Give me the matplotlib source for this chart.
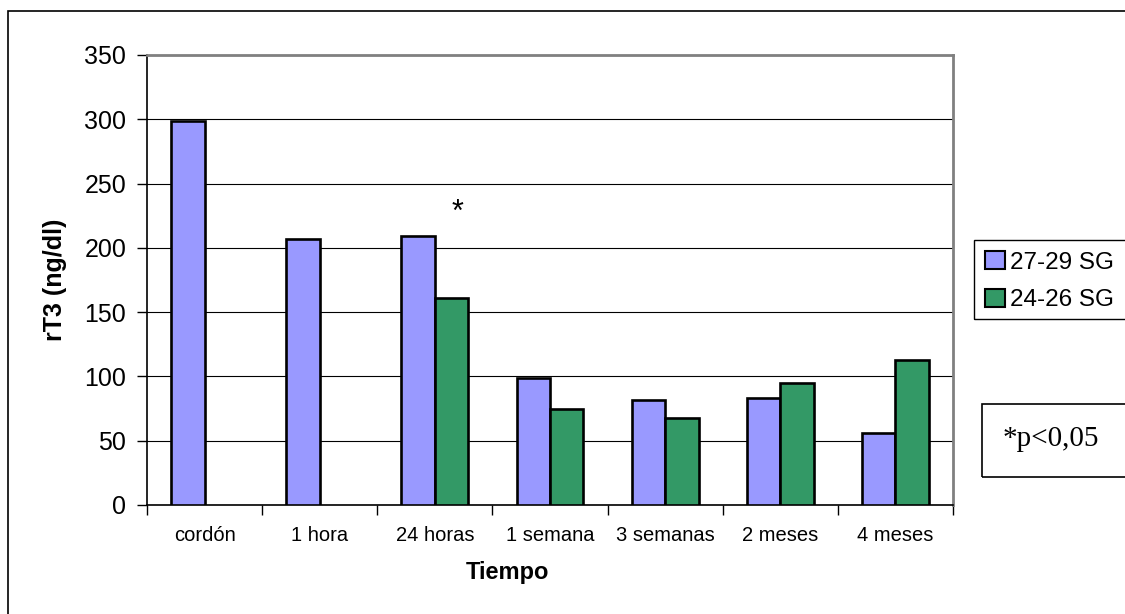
import matplotlib.pyplot as plt
from matplotlib.patches import Rectangle, Patch
import numpy as np

# datos
categorias = ['cordón', '1 hora', '24 horas', '1 semana', '3 semanas', '2 meses', '4 meses']
sg_27_29 = [299, 207, 209, 99, 82, 83, 56]
sg_24_26 = [np.nan, np.nan, 161, 75, 68, 95, 113]
series = ['27-29 SG', '24-26 SG']
yticks = [0, 50, 100, 150, 200, 250, 300, 350]

if True:
    W, H, dpi = 1125, 614, 100
    colors = ['#9999FF', '#339966']
    plt.rcParams['font.family'] = ['Liberation Sans', 'DejaVu Sans']

fig = plt.figure(figsize=(W / dpi, H / dpi), dpi=dpi)
# área de trazado (px -> fracción)
ax = fig.add_axes([147 / W, 1 - 505 / H, (953 - 147) / W, (505 - 55) / H])

x = np.arange(len(categorias))
bw = 0.29
ax.bar(x - bw, sg_27_29, width=bw, align='edge', color=colors[0],
       edgecolor='black', linewidth=1.9, zorder=3)
g = np.array(sg_24_26, dtype=float)
m = ~np.isnan(g)
ax.bar(x[m], g[m], width=bw, align='edge', color=colors[1],
       edgecolor='black', linewidth=1.9, zorder=3)

ax.set_xlim(-0.5, len(categorias) - 0.5)
ax.set_ylim(0, 350)
ax.set_yticks(yticks)
ax.yaxis.grid(True, color='black', linewidth=0.8, zorder=0)

# marcas en los límites de categoría, etiquetas al centro
ax.set_xticks(np.arange(len(categorias) + 1) - 0.5)
ax.set_xticklabels([])
ax.set_xticks(x, minor=True)
ax.set_xticklabels(categorias, minor=True, fontsize=14.5)
ax.tick_params(axis='x', which='major', length=7, width=1, direction='out')
ax.tick_params(axis='x', which='minor', length=0, pad=15)
ax.tick_params(axis='y', length=7, width=1, labelsize=18, pad=8)

for s in ['top', 'right']:
    ax.spines[s].set_color('#808080')
    ax.spines[s].set_linewidth(2)
ax.spines['left'].set_linewidth(1.2)
ax.spines['bottom'].set_linewidth(1.2)

ax.set_ylabel('rT3 (ng/dl)', fontsize=18, fontweight='bold', labelpad=12)
fig.text(507 / W, 1 - 572 / H, 'Tiempo', fontsize=17, fontweight='bold',
         ha='center', va='center')

# asterisco
ax.text(2.196, 227.5, '*', fontsize=22, ha='center', va='center')

# marco exterior
fig.patches.append(Rectangle((8 / W, -0.1), 1.2, 1 - 11 / H + 0.1,
                             transform=fig.transFigure, fill=False,
                             edgecolor='black', linewidth=1.2))

# leyenda (marco dibujado aparte, se sale por la derecha)
fig.patches.append(Rectangle((974 / W, 1 - 319 / H), 0.3, 79 / H,
                             transform=fig.transFigure, fill=False,
                             edgecolor='black', linewidth=1))
handles = [Patch(facecolor=colors[i], edgecolor='black', linewidth=1.5, label=series[i])
           for i in range(2)]
leg = fig.legend(handles=handles, loc='upper left',
                 bbox_to_anchor=(978 / W, 1 - 244 / H), fontsize=17.5,
                 frameon=False,
                 handlelength=0.8, handleheight=0.75, handletextpad=0.2,
                 labelspacing=0.62, borderpad=0.3, borderaxespad=0)

# cuadro p
fig.patches.append(Rectangle((982 / W, 1 - 477 / H), 0.3, 73 / H,
                             transform=fig.transFigure, fill=False,
                             edgecolor='black', linewidth=1.2))
fig.text(1003 / W, 1 - 439 / H, '*p<0,05', fontsize=21, family='Liberation Serif',
         ha='left', va='center')

fig.savefig('out.png', dpi=dpi)
